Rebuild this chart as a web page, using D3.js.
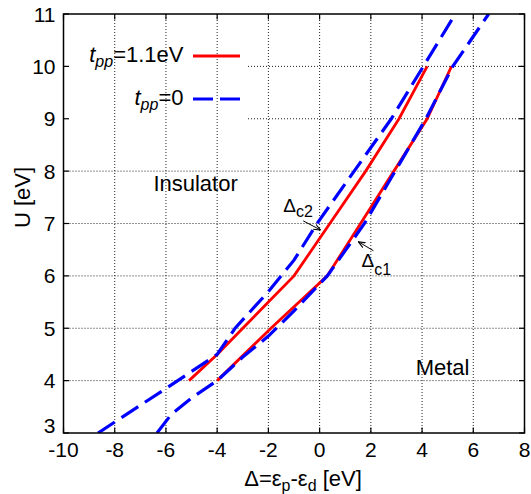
<!DOCTYPE html>
<html>
<head>
<meta charset="utf-8">
<script src="https://cdn.jsdelivr.net/npm/d3@7"></script>
<style>
  html, body { margin: 0; padding: 0; background: #fff; }
  svg { display: block; }
  text { font-family: "Liberation Sans", Arial, Helvetica, sans-serif; fill: #000; }
</style>
</head>
<body>
<div id="chart"></div>
<script>
// ---- data ----
// t_pp = 1.1 eV, boundary Delta_c2 (upper/left)
const redC2Delta = [-5.1, -4, -3, -2, -1, 0.4, 1.8, 3.1, 4.2];
const redC2U     = [4, 4.5, 5, 5.5, 6, 7, 8, 9, 10];
// t_pp = 1.1 eV, boundary Delta_c1 (lower/right)
const redC1Delta = [-4, -1.9, 0.3, 1.6, 2.9, 4.2, 5.15];
const redC1U     = [4, 5, 6, 7, 8, 9, 10];
// t_pp = 0, boundary Delta_c2
const blueC2Delta = [-8.65, -6, -4, -3.3, -2, -1, -0.1, 1.35, 2.8, 4.05, 5.3];
const blueC2U     = [3, 3.85, 4.5, 5, 5.7, 6.3, 7, 8, 9, 10, 11];
// t_pp = 0, boundary Delta_c1
const blueC1Delta = [-6.35, -5.8, -5.0, -4, -3, -2, -1, 0.3, 1.75, 2.95, 4.15, 5.2, 6.6];
const blueC1U     = [3, 3.35, 3.67, 4, 4.45, 4.85, 5.33, 6, 7, 8, 9, 10, 11];

const xTicks = [-10, -8, -6, -4, -2, 0, 2, 4, 6, 8];
const yTicks = [3, 4, 5, 6, 7, 8, 9, 10, 11];

(function () {
// ---- layout ----
const W = 531, H = 494;
const pL = 63.5, pR = 524.5, pT = 14, pB = 433;
const x = d3.scaleLinear().domain([-10, 8]).range([pL, pR]);
const y = d3.scaleLinear().domain([3, 11]).range([pB, pT]);

const svg = d3.select("#chart").append("svg")
  .attr("width", W).attr("height", H);
svg.append("rect").attr("width", W).attr("height", H).attr("fill", "#fff");

const defs = svg.append("defs");
defs.append("clipPath").attr("id", "plotclip")
  .append("rect").attr("x", pL).attr("y", pT)
  .attr("width", pR - pL).attr("height", pB - pT);

// grid
const keyRight = 248, keyTopU = 10.6, keyBottomU = 8.5;
const grid = svg.append("g").attr("stroke", "#222").attr("stroke-width", 1)
  .attr("stroke-dasharray", "1,2").attr("fill", "none");
xTicks.slice(1, -1).forEach(v => {
  grid.append("line").attr("x1", x(v)).attr("x2", x(v))
    .attr("y1", pT).attr("y2", pB);
});
yTicks.slice(1, -1).forEach(v => {
  const x0 = (v <= keyTopU && v >= keyBottomU) ? keyRight : pL;
  grid.append("line").attr("x1", x0).attr("x2", pR)
    .attr("y1", y(v)).attr("y2", y(v));
});

// curves
const line = d3.line().x(d => x(d[0])).y(d => y(d[1]));
const zip = (a, b) => a.map((v, i) => [v, b[i]]);
const plot = svg.append("g").attr("clip-path", "url(#plotclip)");
plot.append("path").datum(zip(redC2Delta, redC2U)).attr("d", line)
  .attr("fill", "none").attr("stroke", "#ff0000").attr("stroke-width", 2.8);
plot.append("path").datum(zip(redC1Delta, redC1U)).attr("d", line)
  .attr("fill", "none").attr("stroke", "#ff0000").attr("stroke-width", 2.8);
plot.append("path").datum(zip(blueC2Delta, blueC2U)).attr("d", line)
  .attr("fill", "none").attr("stroke", "#0000ff").attr("stroke-width", 3.2)
  .attr("stroke-dasharray", "20,8");
plot.append("path").datum(zip(blueC1Delta, blueC1U)).attr("d", line)
  .attr("fill", "none").attr("stroke", "#0000ff").attr("stroke-width", 3.2)
  .attr("stroke-dasharray", "20,8");

// border
svg.append("rect").attr("x", pL).attr("y", pT)
  .attr("width", pR - pL).attr("height", pB - pT)
  .attr("fill", "none").attr("stroke", "#000").attr("stroke-width", 1.5);

// ticks (inward, mirrored)
const tk = svg.append("g").attr("stroke", "#000").attr("stroke-width", 1.2);
const tl = 5.5;
xTicks.forEach(v => {
  tk.append("line").attr("x1", x(v)).attr("x2", x(v)).attr("y1", pB).attr("y2", pB - tl);
  tk.append("line").attr("x1", x(v)).attr("x2", x(v)).attr("y1", pT).attr("y2", pT + tl);
});
yTicks.forEach(v => {
  tk.append("line").attr("x1", pL).attr("x2", pL + tl).attr("y1", y(v)).attr("y2", y(v));
  tk.append("line").attr("x1", pR).attr("x2", pR - tl).attr("y1", y(v)).attr("y2", y(v));
});

// tick labels
const fs = 21;
xTicks.forEach(v => {
  svg.append("text").attr("x", x(v)).attr("y", 457)
    .attr("text-anchor", "middle").attr("font-size", fs).text(v);
});
yTicks.forEach(v => {
  svg.append("text").attr("x", 55.5).attr("y", v === 3 ? y(v) : y(v) + 7.5)
    .attr("text-anchor", "end").attr("font-size", fs).text(v);
});

// axis titles
const xt = svg.append("text").attr("x", 303).attr("y", 486)
  .attr("text-anchor", "middle").attr("font-size", 22);
xt.append("tspan").text("\u0394=\u03b5");
xt.append("tspan").attr("font-size", 16).attr("dy", 5).text("p");
xt.append("tspan").attr("dy", -5).text("-\u03b5");
xt.append("tspan").attr("font-size", 16).attr("dy", 5).text("d");
xt.append("tspan").attr("dy", -5).text(" [eV]");

svg.append("text").attr("transform", "translate(30,197.5) rotate(-90)")
  .attr("text-anchor", "middle").attr("font-size", 22).text("U [eV]");

// legend
const legend = [
  { label: "=1.1eV", color: "#ff0000", dash: null, ly: 56 },
  { label: "=0", color: "#0000ff", dash: "20,7", ly: 99 }
];
legend.forEach(d => {
  const t = svg.append("text").attr("x", 183.5).attr("y", d.ly + 6)
    .attr("text-anchor", "end").attr("font-size", 22);
  t.append("tspan").attr("font-style", "italic").text("t");
  t.append("tspan").attr("font-style", "italic").attr("font-size", 16).attr("dy", 5).text("pp");
  t.append("tspan").attr("dy", -5).text(d.label);
  const l = svg.append("line").attr("x1", 193).attr("x2", 240)
    .attr("y1", d.ly).attr("y2", d.ly)
    .attr("stroke", d.color).attr("stroke-width", d.dash ? 3.2 : 2.8);
  if (d.dash) l.attr("stroke-dasharray", d.dash);
});

// region labels
svg.append("text").attr("x", x(-6.49)).attr("y", y(7.62))
  .attr("font-size", 22).text("Insulator");
svg.append("text").attr("x", x(3.75)).attr("y", y(4.107))
  .attr("font-size", 22).text("Metal");

// annotations
defs.append("marker").attr("id", "ah").attr("viewBox", "0 0 10 10")
  .attr("refX", 10).attr("refY", 5).attr("markerWidth", 7).attr("markerHeight", 7)
  .attr("markerUnits", "userSpaceOnUse").attr("orient", "auto")
  .append("path").attr("d", "M0,1 L10,5 L0,9").attr("fill", "none")
  .attr("stroke", "#000").attr("stroke-width", 1.5);

const annos = [
  { name: "c2", tx: -1.42, tu: 7.225, sub: 5.5, ax1: -0.64, au1: 7.05, ax2: 0.04, au2: 6.876 },
  { name: "c1", tx: 1.64, tu: 6.164, sub: 8, ax1: 2.10, au1: 6.48, ax2: 1.51, au2: 6.653 }
];
annos.forEach(a => {
  const t = svg.append("text").attr("x", x(a.tx)).attr("y", y(a.tu)).attr("font-size", 19);
  t.append("tspan").text("\u0394");
  t.append("tspan").attr("font-size", 16).attr("dy", a.sub).text(a.name);
  svg.append("line").attr("x1", x(a.ax1)).attr("y1", y(a.au1))
    .attr("x2", x(a.ax2)).attr("y2", y(a.au2))
    .attr("stroke", "#000").attr("stroke-width", 1)
    .attr("marker-end", "url(#ah)");
});
})();
</script>
</body>
</html>
